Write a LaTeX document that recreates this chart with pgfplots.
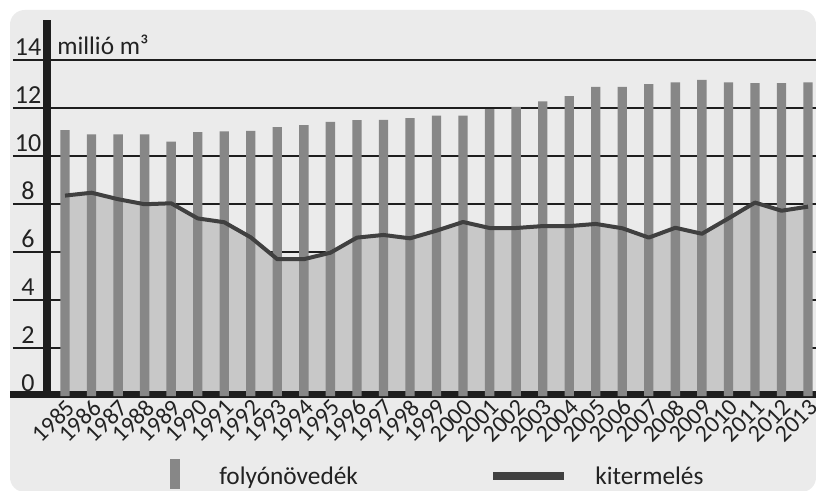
\documentclass[border=0pt]{standalone}
\usepackage{pgfplots}
\pgfplotsset{compat=1.18}
\usepackage{pgfplotstable}
\usepackage{fontspec}
\setmainfont{Carlito}

\definecolor{panel}{HTML}{EBEBEB}
\definecolor{barcol}{HTML}{878787}
\definecolor{areacol}{HTML}{C8C8C8}
\definecolor{linecol}{HTML}{404040}
\definecolor{gridcol}{HTML}{1E1E1E}
\definecolor{txt}{HTML}{222222}

% year, folyonovedek (bars), kitermeles (line)
\pgfplotstableread{
year grow cut
1985 11.08 8.35
1986 10.90 8.47
1987 10.90 8.20
1988 10.90 7.99
1989 10.60 8.03
1990 11.00 7.40
1991 11.03 7.24
1992 11.05 6.61
1993 11.20 5.70
1994 11.29 5.70
1995 11.42 5.97
1996 11.49 6.60
1997 11.51 6.71
1998 11.58 6.57
1999 11.68 6.89
2000 11.68 7.25
2001 11.95 7.00
2002 12.05 7.00
2003 12.28 7.08
2004 12.49 7.08
2005 12.88 7.17
2006 12.88 6.99
2007 12.99 6.60
2008 13.07 7.01
2009 13.17 6.76
2010 13.07 7.40
2011 13.04 8.06
2012 13.04 7.72
2013 13.07 7.89
}\datatable

\begin{document}
\begin{tikzpicture}
\useasboundingbox (0,0) rectangle (612pt,-368.25pt);
% grey panel
\fill[panel, rounded corners=11pt] (7.5pt,-7.5pt) rectangle (612pt,-369pt);

\begin{axis}[
    at={(9.75pt,-297pt)}, anchor=south west,
    scale only axis,
    width=602.25pt, height=282pt,
    xmin=1983.04, xmax=2013.3,
    ymin=0, ymax=15.667,
    clip=false,
    axis line style={draw=none},
    major tick length=0pt,
    xtick={1985,...,2013},
    ytick={2,4,...,14},
    extra y ticks={0},
    extra y tick style={grid=none},
    ymajorgrids,
    grid style={gridcol, line width=2pt},
    /pgf/number format/assume math mode=true,
    /pgf/number format/1000 sep={},
    xticklabel style={font=\fontsize{18}{18}\selectfont, text=txt,
        rotate=45, anchor=east, inner sep=1pt, yshift=-7pt},
    yticklabel style={font=\fontsize{19.5}{19.5}\selectfont, text=txt,
        anchor=base, xshift=11.25pt, yshift=3.75pt, inner sep=0pt},
]
% area under kitermeles
\addplot[fill=areacol, draw=none] table[x=year, y=cut] {\datatable} \closedcycle;
% axis lines
\draw[gridcol, line width=5.25pt] (axis cs:1982.93,0.06) -- (axis cs:2013.3,0.06);
\draw[gridcol, line width=6pt] (axis cs:1984.32,0) -- (axis cs:1984.32,15.667);
% folyonovedek bars
\addplot[ybar, bar width=7pt, fill=barcol, draw=none] table[x=year, y=grow] {\datatable};
% kitermeles line
\addplot[linecol, line width=3pt, line join=round] table[x=year, y=cut] {\datatable};
\node[anchor=base west, inner sep=0pt, text=txt, font=\fontsize{19}{19}\selectfont]
    at (axis cs:1984.70,14.21) {millió m³};
\end{axis}

% legend
\fill[barcol] (127.5pt,-344.25pt) rectangle (135pt,-366.75pt);
\node[anchor=base west, inner sep=0pt, text=txt, font=\fontsize{19}{19}\selectfont]
    at (164.25pt,-363pt) {folyónövedék};
\draw[linecol, line width=6pt] (369.75pt,-357pt) -- (423pt,-357pt);
\node[anchor=base west, inner sep=0pt, text=txt, font=\fontsize{19}{19}\selectfont]
    at (446.25pt,-363pt) {kitermelés};
\end{tikzpicture}
\end{document}
